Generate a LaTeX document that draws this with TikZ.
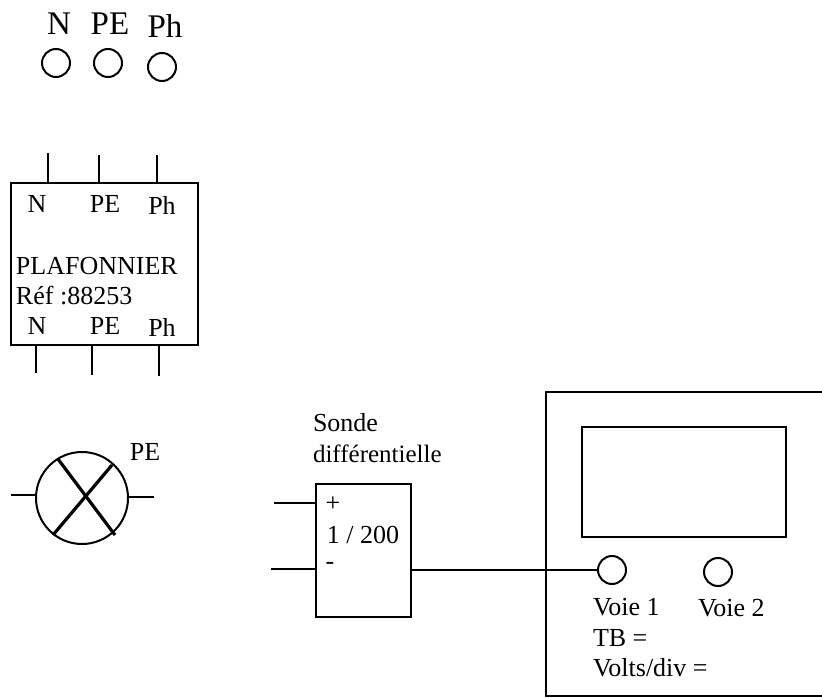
\documentclass[tikz,border=0pt]{standalone}
\usepackage{fontspec}
\setmainfont{Liberation Serif}
\usetikzlibrary{positioning,calc}
\tikzstyle{txt}=[inner sep=0pt,font=\fontsize{26}{26}\selectfont]
\tikzstyle{txtl}=[txt,anchor=west]
\tikzstyle{bigtxt}=[inner sep=0pt,font=\fontsize{33}{33}\selectfont]
\tikzstyle{borne}=[circle,draw,fill=white,inner sep=0pt,minimum size=28pt]
\tikzstyle{boite}=[rectangle,draw,inner sep=0pt]
\tikzstyle{fil}=[line width=2pt]
\tikzstyle{croix}=[line width=3.2pt]
\newcommand*{\boite}[5]{
  \node[boite] (#1) at ({(#2+#4)/2},{(#3+#5)/2}) [minimum width={(#4-#2)*1pt},minimum height={(#5-#3)*1pt}] {};
}

\begin{document}
\begin{tikzpicture}[x=1pt,y=-1pt,line width=2pt]
  \useasboundingbox (0,0) rectangle (822,698);
  % sockets on top
  \node[bigtxt] (lN) at (59,24) {N};
  \node[bigtxt] (lPE) at (110,24) {PE};
  \node[bigtxt] (lPh) at (165,26) {Ph};
  \node[borne] (sN) at (56,63) {};
  \node[borne] (sPE) at (108,63) {};
  \node[borne] (sPh) at (162,67) {};
  % plafonnier
  \boite{plaf}{10.5}{183}{198}{345}
  \foreach \name/\x/\y in {a/48/153,b/99/155,c/157/155} {
    \coordinate (t\name) at (\x,\y);
    \draw[fil] (t\name) -- (t\name |- plaf.north);
  }
  \foreach \name/\x/\y in {a/36/373,b/92/375,c/159/376} {
    \coordinate (b\name) at (\x,\y);
    \draw[fil] (b\name) -- (b\name |- plaf.south);
  }
  \foreach \name/\txt/\x/\y/\yy in {n/N/37/204/326,p/PE/105/204/326,h/Ph/162/205/327} {
    \node[txt] (in\name) at (\x,\y) {\txt};
    \node[txt] (out\name) at (\x,\yy) {\txt};
  }
  \node[txtl] (nom) at (15,266) {PLAFONNIER};
  \node[txtl] (ref) at (15,296) {Réf :88253};
  % lampe
  \node[circle,draw,inner sep=0pt,minimum size=92pt] (lampe) at (82,498) {};
  \coordinate (gl) at (11,495);
  \coordinate (dr) at (154,497);
  \draw[fil] (gl) -- (gl -| lampe.west);
  \draw[fil] (dr) -- (dr -| lampe.east);
  \coordinate (c1) at (58,459);
  \coordinate (c2) at (115,535);
  \coordinate (c3) at (112,465);
  \coordinate (c4) at (53,535);
  \draw[croix] (c1) -- (c2);
  \draw[croix] (c3) -- (c4);
  \node[txt] (lampePE) at (145,452) {PE};
  % sonde
  \node[txtl] (sonde) at (312,423) {Sonde};
  \node[txtl,font=\fontsize{25}{25}\selectfont] (diff) at (312,454) {différentielle};
  \boite{probe}{316}{484}{411}{617}
  \coordinate (plus) at (274,503);
  \coordinate (moins) at (271,569);
  \draw[fil] (plus) -- (plus -| probe.west);
  \draw[fil] (moins) -- (moins -| probe.west);
  \node[txt] (lplus) at (333,504) {+};
  \node[txt] (rapport) at (363,535) {1 / 200};
  \node[txt] (lmoins) at (330,566) {-};
  % oscillo
  \coordinate (o1) at (822,392);
  \coordinate (o2) at (546,392);
  \coordinate (o3) at (546,696);
  \coordinate (o4) at (822,696);
  \draw (o1) -- (o2) -- (o3) -- (o4);
  \boite{ecran}{582}{427}{786}{537}
  \node[borne] (voie1) at (612,570) {};
  \node[borne] (voie2) at (718,572) {};
  \draw[fil] (probe.east |- voie1.west) -- (voie1.west);
  \node[txtl] (lv1) at (592,607) {Voie 1};
  \node[txtl] (lv2) at (697,608) {Voie 2};
  \node[txtl] (tb) at (592,638) {TB =};
  \node[txtl] (volts) at (592,668) {Volts/div =};
\end{tikzpicture}
\end{document}
